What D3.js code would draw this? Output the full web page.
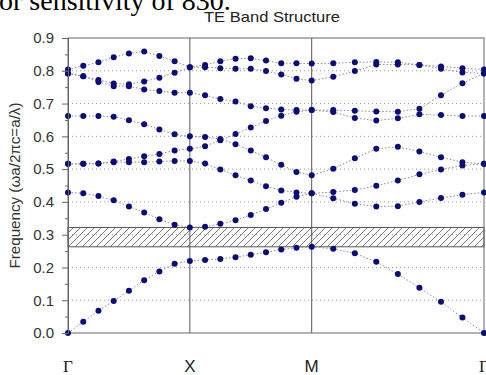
<!DOCTYPE html>
<html>
<head>
<meta charset="utf-8">
<script src="https://cdn.jsdelivr.net/npm/d3@7"></script>
<style>
  html, body { margin: 0; padding: 0; background: #fff; overflow: hidden; }
  svg { display: block; }
</style>
</head>
<body>
<svg id="chart" width="486" height="375"></svg>
<script>
// ---- data ----
const kPath = [0, 0.125, 0.25, 0.375, 0.5, 0.625, 0.75, 0.875, 1,
               1.125, 1.25, 1.375, 1.5, 1.625, 1.75, 1.875, 2,
               2.177, 2.354, 2.530, 2.707, 2.884, 3.061, 3.237, 3.414];
const symLabels = ["Γ", "X", "M", "Γ"];
const symPos = [0, 1, 2, 3.414];
const yTicks = [0.0, 0.1, 0.2, 0.3, 0.4, 0.5, 0.6, 0.7, 0.8, 0.9];
const yMinorTicks = [0.05, 0.15, 0.25, 0.35, 0.45, 0.55, 0.65, 0.75, 0.85];
const gridLines = [0.1, 0.2, 0.3, 0.4, 0.5, 0.6, 0.7, 0.8];
const gapRange = [0.263, 0.322];

const band1 = [0, 0.034, 0.068, 0.098, 0.129, 0.161, 0.188, 0.211, 0.220,
               0.223, 0.226, 0.231, 0.239, 0.246, 0.255, 0.260, 0.263,
               0.257, 0.243, 0.217, 0.180, 0.138, 0.095, 0.047, 0];
const band2 = [0.429, 0.426, 0.418, 0.405, 0.386, 0.368, 0.347, 0.330, 0.322,
               0.324, 0.333, 0.344, 0.360, 0.378, 0.397, 0.416, 0.426,
               0.411, 0.394, 0.386, 0.387, 0.400, 0.412, 0.422, 0.429];
const band3 = [0.516, 0.516, 0.517, 0.521, 0.521, 0.521, 0.523, 0.525, 0.525,
               0.517, 0.499, 0.481, 0.465, 0.448, 0.435, 0.429, 0.426,
               0.430, 0.436, 0.449, 0.465, 0.484, 0.499, 0.511, 0.516];
const band4 = [0.516, 0.516, 0.517, 0.523, 0.531, 0.539, 0.546, 0.557, 0.562,
               0.570, 0.588, 0.607, 0.627, 0.647, 0.663, 0.675, 0.680,
               0.674, 0.656, 0.648, 0.655, 0.667, 0.665, 0.662, 0.662];
const band5 = [0.662, 0.662, 0.662, 0.660, 0.649, 0.637, 0.621, 0.606, 0.600,
               0.598, 0.592, 0.576, 0.557, 0.536, 0.513, 0.491, 0.481,
               0.501, 0.533, 0.562, 0.568, 0.554, 0.536, 0.521, 0.516];
const band6 = [0.792, 0.783, 0.766, 0.753, 0.753, 0.743, 0.738, 0.733, 0.733,
               0.725, 0.714, 0.706, 0.692, 0.686, 0.682, 0.680, 0.680,
               0.680, 0.678, 0.676, 0.675, 0.684, 0.725, 0.762, 0.792];
const band7 = [0.792, 0.783, 0.772, 0.761, 0.759, 0.767, 0.779, 0.794, 0.811,
               0.811, 0.808, 0.806, 0.806, 0.799, 0.789, 0.776, 0.770,
               0.782, 0.799, 0.819, 0.819, 0.818, 0.806, 0.795, 0.792];
const band8 = [0.804, 0.815, 0.826, 0.841, 0.853, 0.859, 0.845, 0.829, 0.811,
               0.818, 0.829, 0.837, 0.838, 0.831, 0.823, 0.823, 0.822,
               0.823, 0.826, 0.827, 0.826, 0.818, 0.813, 0.808, 0.804];
const bands = [band1, band2, band3, band4, band5, band6, band7, band8];

// ---- layout ----
const L = 68, R = 484, T = 38, B = 333;
const svg = d3.select("#chart");
const x = d3.scaleLinear().domain([0, 3.414]).range([L, R]);
const y = d3.scaleLinear().domain([0, 0.9]).range([B, T]);
const sans = "'Liberation Sans', Arial, sans-serif";
const serif = "'Liberation Serif', 'Times New Roman', serif";

// caption fragment at top (cut off as in the source)
svg.append("text")
  .attr("x", -1).attr("y", 10)
  .attr("font-family", serif)
  .attr("font-size", 28)
  .attr("fill", "#000")
  .text("or sensitivity of 830.");

// title
svg.append("text")
  .attr("x", 272).attr("y", 22)
  .attr("text-anchor", "middle")
  .attr("font-family", sans)
  .attr("font-size", 15)
  .attr("textLength", 136).attr("lengthAdjust", "spacingAndGlyphs")
  .attr("fill", "#222")
  .text("TE Band Structure");

// defs: hatch pattern
const defs = svg.append("defs");
const pat = defs.append("pattern")
  .attr("id", "hatch").attr("patternUnits", "userSpaceOnUse")
  .attr("width", 7).attr("height", 7);
pat.append("path")
  .attr("d", "M-1,1 l2,-2 M0,7 l7,-7 M6,8 l2,-2")
  .attr("stroke", "#555").attr("stroke-width", 0.8);

// grid lines
svg.append("g").selectAll("line").data(gridLines).join("line")
  .attr("x1", L).attr("x2", R)
  .attr("y1", d => y(d)).attr("y2", d => y(d))
  .attr("stroke", "#9a9a9a").attr("stroke-width", 1)
  .attr("stroke-dasharray", "1,3");

// band gap
svg.append("rect")
  .attr("x", L).attr("width", R - L)
  .attr("y", y(gapRange[1])).attr("height", y(gapRange[0]) - y(gapRange[1]))
  .attr("fill", "url(#hatch)")
  .attr("stroke", "#555").attr("stroke-width", 1);

// vertical symmetry lines
svg.append("g").selectAll("line").data(symPos.slice(1, 3)).join("line")
  .attr("x1", d => x(d)).attr("x2", d => x(d))
  .attr("y1", T).attr("y2", B)
  .attr("stroke", "#555").attr("stroke-width", 1);

// frame
svg.append("rect")
  .attr("x", L).attr("y", T).attr("width", R - L).attr("height", B - T)
  .attr("fill", "none").attr("stroke", "#666").attr("stroke-width", 1);

// band lines
const line = d3.line().x((d, i) => x(kPath[i])).y(d => y(d));
svg.append("g").selectAll("path").data(bands).join("path")
  .attr("d", line)
  .attr("fill", "none")
  .attr("stroke", "#8a8a8a").attr("stroke-width", 1)
  .attr("stroke-dasharray", "1.5,2");

// points
const gp = svg.append("g");
bands.forEach(b => {
  gp.selectAll(null).data(b).join("circle")
    .attr("cx", (d, i) => x(kPath[i]))
    .attr("cy", d => y(d))
    .attr("r", 3)
    .attr("fill", "#0c0c7a");
});

// y axis
const yAxis = svg.append("g").attr("transform", `translate(${L},0)`)
  .call(d3.axisLeft(y).tickValues(yTicks).tickFormat(d3.format(".1f")).tickSize(6).tickPadding(8));
yAxis.select(".domain").attr("stroke", "#666");
yAxis.selectAll(".tick line").attr("stroke", "#666");
yAxis.selectAll(".tick text")
  .attr("font-family", sans)
  .attr("font-size", 15).attr("fill", "#333");
const yMinor = svg.append("g").attr("transform", `translate(${L},0)`)
  .call(d3.axisLeft(y).tickValues(yMinorTicks).tickFormat("").tickSize(3));
yMinor.select(".domain").remove();
yMinor.selectAll(".tick line").attr("stroke", "#666");

// y axis title
svg.append("text")
  .attr("transform", `translate(20,${(T + B) / 2}) rotate(-90)`)
  .attr("text-anchor", "middle")
  .attr("font-family", sans)
  .attr("font-size", 14)
  .attr("textLength", 166).attr("lengthAdjust", "spacingAndGlyphs")
  .attr("fill", "#333")
  .text("Frequency (ωa/2πc=a/λ)");

// x symmetry labels
svg.append("g").selectAll("text").data(symLabels).join("text")
  .attr("x", (d, i) => x(symPos[i]))
  .attr("y", 372)
  .attr("text-anchor", "middle")
  .attr("font-family", d => d === "Γ" ? serif : sans)
  .attr("font-size", 17)
  .attr("fill", "#222")
  .text(d => d);
</script>
</body>
</html>
